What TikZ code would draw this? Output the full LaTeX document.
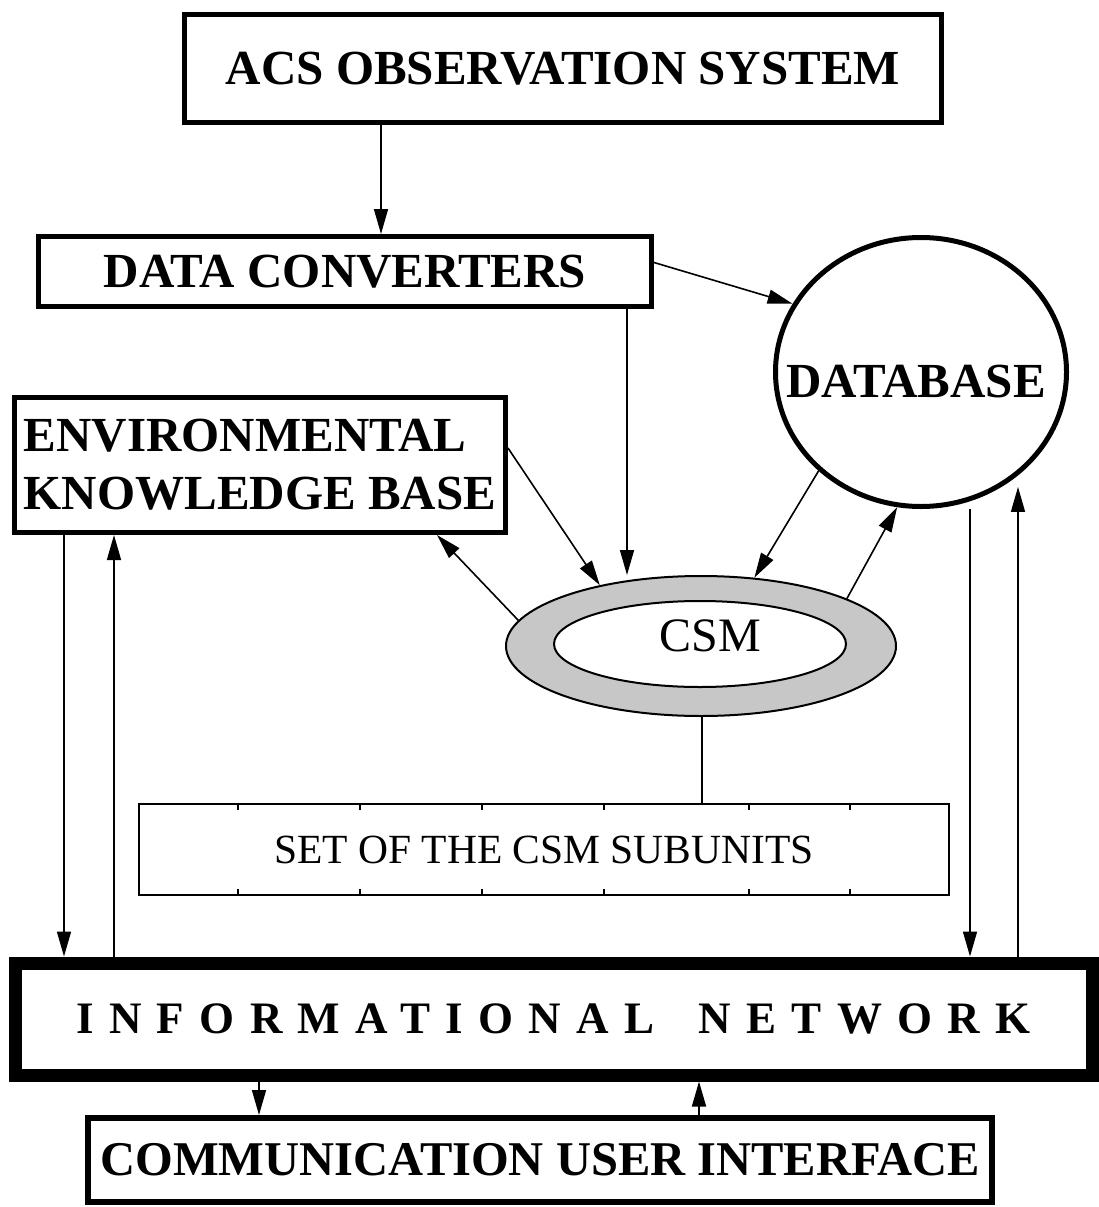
\documentclass[tikz,border=0pt]{standalone}
\usepackage{fontspec}
\setmainfont{Liberation Serif}
\usetikzlibrary{shapes.geometric}
\usetikzlibrary{arrows.meta}

\begin{document}
\begin{tikzpicture}[x=1pt, y=-1pt]
    \tikzstyle{block} = [draw=black, line width=5pt, rectangle, inner sep=0pt, font=\bfseries\fontsize{49}{58}\selectfont];
    \tikzstyle{store} = [draw=black, line width=5pt, ellipse, inner sep=0pt, minimum width=291pt, minimum height=269pt];
    \tikzstyle{ring} = [draw=black, line width=2pt, ellipse, fill=black!22, minimum width=390pt, minimum height=140pt];
    \tikzstyle{core} = [draw=black, line width=2pt, ellipse, fill=white, inner sep=0pt, minimum width=292pt, minimum height=86pt];
    \tikzstyle{subset} = [draw=black, line width=2pt, rectangle, minimum width=810pt, minimum height=91pt, font=\fontsize{41.5}{50}\selectfont];
    \tikzstyle{pointer} = [line width=1.6pt, -{Triangle[length=25pt, width=14pt]}];
    \tikzstyle{link} = [line width=2pt];
    \tikzstyle{sub-tick} = [line width=2pt];

    \useasboundingbox (0,0) rectangle (1099,1207);

    \node[block, minimum width=757pt, minimum height=108pt] (acs) at (563, 68.5) {ACS OBSERVATION SYSTEM};
    \node[block, minimum width=613pt, minimum height=70pt] (conv) at (345, 271.5) {DATA CONVERTERS};
    \node[block, minimum width=491pt, minimum height=135pt, align=left] (env) at (260, 465) {ENVIRONMENTAL\\KNOWLEDGE BASE};
    \node[store, label={[font=\bfseries\fontsize{49}{58}\selectfont, xshift=-5pt, yshift=-10pt]center:DATABASE}] (db) at (921, 372) {};

    \node[ring] (ring) at (701, 646) {};
    \node[core, label={[font=\fontsize{48}{56}\selectfont, xshift=10pt, yshift=8pt]center:CSM}] (csm) at (700, 644) {};

    \node[subset] (sub) at (544, 849.5) {SET OF THE CSM SUBUNITS};
    \foreach \tx in {238, 360, 482, 604, 749, 850} {
        \draw[sub-tick] (\tx, 804) -- (\tx, 810);
        \draw[sub-tick] (\tx, 895) -- (\tx, 889);
    }

    \node[block, line width=13pt, minimum width=1077pt, minimum height=112pt,
          font=\bfseries\fontsize{45}{54}\selectfont\addfontfeature{LetterSpace=34}] (net) at (553.5, 1019) {INFORMATIONAL\hspace{18pt} NETWORK};
    \node[block, line width=6pt, minimum width=904pt, minimum height=84pt,
          font=\bfseries\fontsize{48.5}{56}\selectfont] (cui) at (540, 1160) {COMMUNICATION USER INTERFACE};

    % x positions of the vertical connectors
    \coordinate (acs-down) at (381, 0);
    \coordinate (conv-down) at (627, 0);
    \coordinate (ring-kb) at (437, 0);
    \coordinate (sub-link) at (702, 0);
    \coordinate (kb-down) at (64, 0);
    \coordinate (kb-up) at (114, 0);
    \coordinate (db-down) at (970, 0);
    \coordinate (db-up) at (1018, 0);
    \coordinate (ui-down) at (259, 0);
    \coordinate (ui-up) at (699, 0);

    \draw[pointer] (acs-down |- acs.south) -- (acs-down |- conv.north);
    \draw[pointer] ([yshift=9pt]conv.east) -- (db.152);
    \draw[pointer] (conv-down |- conv.south) -- (conv-down |- ring.north);
    \draw[pointer] ([yshift=17pt]env.east) -- (ring.149);
    \draw[pointer] (db.224) -- (ring.52);
    \draw[pointer] (ring.18) -- (db.260);
    \draw[pointer] (ring.172) -- (ring-kb |- env.south);
    \draw[link] (sub-link |- ring.south) -- (sub-link |- sub.north);

    \draw[pointer] (kb-down |- env.south) -- (kb-down |- net.north);
    \draw[pointer] (kb-up |- net.north) -- (kb-up |- env.south);
    \draw[pointer] (db-down |- db.south) -- (db-down |- net.north);
    \draw[pointer] (db-up |- net.north) -- (db-up |- db.305);
    \draw[pointer] (ui-down |- net.south) -- (ui-down |- cui.north);
    \draw[pointer] (ui-up |- cui.north) -- (ui-up |- net.south);
\end{tikzpicture}
\end{document}
